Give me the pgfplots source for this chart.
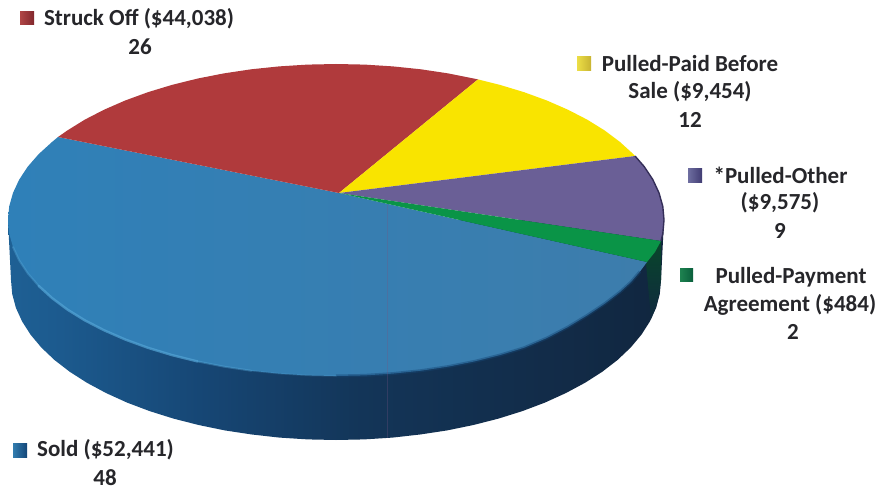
\documentclass[border=0pt]{standalone}
\usepackage{fontspec}
\setmainfont{Carlito}
\usepackage{pgfplots}
\pgfplotsset{compat=1.18}
\definecolor{lab}{HTML}{26262A}
\definecolor{w0}{HTML}{2B78AD}
\definecolor{w1}{HTML}{2570A5}
\definecolor{w2}{HTML}{1C5A8E}
\definecolor{w3}{HTML}{164674}
\definecolor{w4}{HTML}{133558}
\definecolor{w5}{HTML}{11263F}
\definecolor{w6}{HTML}{10293F}
\definecolor{w7}{HTML}{0F2F38}
\definecolor{soldL}{RGB}{47,128,184}
\definecolor{soldR}{RGB}{61,125,172}
\definecolor{struck}{RGB}{176,58,60}
\definecolor{paid}{RGB}{249,228,0}
\definecolor{other}{RGB}{106,95,150}
\definecolor{agree}{RGB}{10,148,71}
\definecolor{rimP}{RGB}{52,46,88}
\definecolor{bevel}{RGB}{84,165,214}
\definecolor{streak}{RGB}{120,85,130}
\definecolor{darkG}{RGB}{8,70,42}
\definecolor{kRa}{RGB}{176,70,70}
\definecolor{kRb}{RGB}{130,40,45}
\definecolor{kYa}{RGB}{236,222,70}
\definecolor{kYb}{RGB}{200,180,50}
\definecolor{kPa}{RGB}{110,110,160}
\definecolor{kPb}{RGB}{65,60,115}
\definecolor{kGa}{RGB}{30,130,80}
\definecolor{kGb}{RGB}{10,95,60}
\definecolor{kBa}{RGB}{50,125,175}
\definecolor{kBb}{RGB}{20,70,120}
\pgfdeclarehorizontalshading{wall}{100bp}{color(0bp)=(w0); color(14bp)=(w1); color(29bp)=(w2); color(40bp)=(w3); color(52bp)=(w4); color(75bp)=(w5); color(95bp)=(w6); color(100bp)=(w7)}
\newcommand{\lbl}[3]{\node[anchor=center,text=lab,font=\fontsize{23}{27}\selectfont\bfseries,inner sep=0pt] at (axis cs:#1,#2) {#3};}
\begin{document}
\begin{tikzpicture}
\begin{axis}[
  width=882pt, height=489pt, scale only axis,
  xmin=0, xmax=882, ymin=0, ymax=489, y dir=reverse,
  axis lines=none, clip=false, no markers,
  every axis plot/.append style={line join=round}
]
% page ground
\addplot[fill=white,draw=none] coordinates {(0,0)(882,0)(882,489)(0,489)} -- cycle;

% side wall of the disc
\addplot[shading=wall,draw=none] coordinates {
(8,220)(11,280)(12.2,293.9)(15.9,307.8)(22.1,321.4)(30.6,334.7)(41.4,347.6)(54.5,360)(69.8,371.8)(87,382.8)
(106.2,393.1)(127.1,402.6)(149.6,411.1)(173.5,418.6)(198.6,425)(224.8,430.4)(251.9,434.5)(279.6,437.6)(307.7,439.4)(336,440)
(364.3,439.4)(392.4,437.6)(420.1,434.5)(447.2,430.4)(473.4,425)(498.5,418.6)(522.4,411.1)(544.9,402.6)(565.8,393.1)(585,382.8)
(602.2,371.8)(617.5,360)(630.6,347.6)(641.4,334.7)(649.9,321.4)(656.1,307.8)(659.8,293.9)(661,280)(664,220)
} -- cycle;
% dark green part of the wall under the small slice
\addplot[top color=darkG,bottom color=w6,draw=none] coordinates {
(661,241)(661,280)(659,295)(656,307)(651,319)(646,263)
} -- cycle;

% Sold
\addplot[left color=soldL,right color=soldR,draw=none] coordinates {
(339,193)(647,262)(640,271.5)(631,282)(620,292)(605,303.5)(587,315.5)(568,327)(547,338)(524,347.8)
(500,355.1)(474.6,361.4)(448.2,366.6)(420.9,370.7)(392.9,373.6)(364.6,375.4)(336,376)(307.4,375.4)(279.1,373.6)(251.1,370.7)
(223.8,366.6)(197.4,361.4)(172,355.1)(147.9,347.8)(125.2,339.5)(104.1,330.3)(84.7,320.3)(67.3,309.5)(52,298)(38.7,285.9)
(27.8,273.4)(19.2,260.4)(13,247.1)(9.2,233.6)(8,220)(9.2,206.4)(13,192.9)(19.2,179.6)(27.8,166.6)(38.7,154.1)(52,142)(58,137)
} -- cycle;
% Struck Off
\addplot[fill=struck,draw=none] coordinates {
(339,193)(58,137)(67.3,130.5)(84.7,119.7)(104.1,109.7)(125.2,100.5)(147.9,92.2)(172,84.9)(197.4,78.6)(223.8,73.4)
(251.1,69.3)(279.1,66.4)(307.4,64.6)(336,64)(364.6,64.6)(393,66.4)(420.9,69.3)(448.2,73.4)(478,79.4)
} -- cycle;
% Pulled-Paid Before Sale
\addplot[fill=paid,draw=none] coordinates {
(339,193)(478,79.4)(500,84.9)(524.1,92.2)(546.8,100.5)(567.9,109.7)(587.3,119.7)(604.7,130.5)(620,142)(633.3,154.1)(635,156)
} -- cycle;
% Pulled-Other
\addplot[fill=other,draw=none] coordinates {
(339,193)(635,156)(644.2,166.6)(652.8,179.6)(659,192.9)(662.8,206.4)(664,220)(662.8,233.6)(661,241)
} -- cycle;
% Pulled-Payment Agreement
\addplot[fill=agree,draw=none] coordinates {
(339,193)(661,241)(655,252)(647,262)
} -- cycle;

% shaded rim of the purple slice
\addplot[color=rimP,line width=1.4pt] coordinates {
(635,156)(644.2,166.6)(652.8,179.6)(659,192.9)(662.8,206.4)(664,220)(662.8,233.6)(661,241)
};
% soft transition along the dark front edge
\addplot[color=w3,line width=3pt,opacity=.45] coordinates {
(640,271.5)(631,282)(620,292)(605,303.5)(587,315.5)(568,327)(547,338)(524,347.8)(500,355.1)(474.6,361.4)(448.2,366.6)(420.9,370.7)(392.9,373.6)(364.6,375.4)(336,376)
};
% light bevel on the front left rim, fading towards both ends
\addplot[color=bevel,line width=2.4pt,opacity=.7,line cap=round] coordinates {
(197.4,361.4)(172,355.1)(147.9,347.8)(125.2,339.5)(104.1,330.3)(84.7,320.3)(67.3,309.5)(52,298)(38.7,285.9)
};
\addplot[color=bevel,line width=2pt,opacity=.4,line cap=round] coordinates {
(251.1,370.7)(223.8,366.6)(197.4,361.4)
};
\addplot[color=bevel,line width=2pt,opacity=.4,line cap=round] coordinates {
(38.7,285.9)(27.8,273.4)(19.2,260.4)(13,247.1)
};
\addplot[color=bevel,line width=1.6pt,opacity=.2,line cap=round] coordinates {
(336,376)(307.4,375.4)(279.1,373.6)(251.1,370.7)
};
% thin vertical streak
\addplot[color=streak,line width=.7pt,opacity=.3] coordinates {(387,205)(387,438)};

% legend keys
\addplot[left color=kRa,right color=kRb,draw=none] coordinates {(20,12)(34,12)(34,25)(20,25)} -- cycle;
\addplot[left color=kYa,right color=kYb,draw=none] coordinates {(577,57)(591,57)(591,71)(577,71)} -- cycle;
\addplot[left color=kPa,right color=kPb,draw=none] coordinates {(688,168)(702,168)(702,182)(688,182)} -- cycle;
\addplot[left color=kGa,right color=kGb,draw=none] coordinates {(680,268)(693,268)(693,281)(680,281)} -- cycle;
\addplot[left color=kBa,right color=kBb,draw=none] coordinates {(13,443)(27,443)(27,457)(13,457)} -- cycle;

% labels
\lbl{139}{19}{Struck Off (\$44,038)}
\lbl{140}{47}{26}
\lbl{690}{64}{Pulled-Paid Before}
\lbl{690}{92}{Sale (\$9,454)}
\lbl{690}{120}{12}
\lbl{780.5}{175}{*Pulled-Other}
\lbl{780}{203}{(\$9,575)}
\lbl{780}{231}{9}
\lbl{791}{277}{Pulled-Payment}
\lbl{790}{305}{Agreement (\$484)}
\lbl{793}{332}{2}
\lbl{105.5}{450}{Sold (\$52,441)}
\lbl{105}{478}{48}
\end{axis}
\end{tikzpicture}
\end{document}
